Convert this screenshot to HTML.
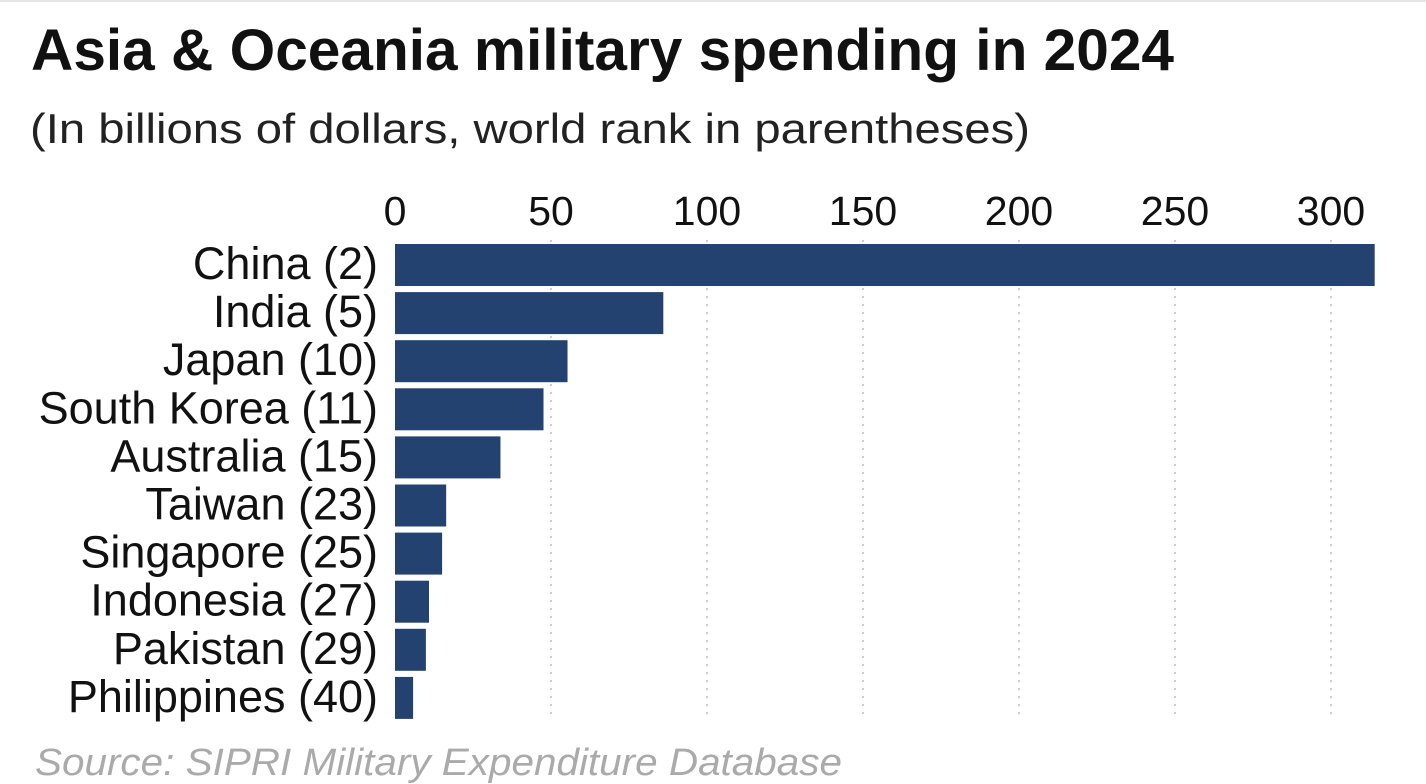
<!DOCTYPE html>
<html><head><meta charset="utf-8"><style>
body{margin:0;background:#fff;}
svg{display:block;font-family:"Liberation Sans",Arial,sans-serif;}
</style></head><body>
<svg id="chart" width="1426" height="784">
<line x1="0" y1="1" x2="1426" y2="1" stroke="#e6e6e6" stroke-width="2"/>
<text x="31" y="70" font-size="58" font-weight="bold" fill="#111" textLength="1143" lengthAdjust="spacingAndGlyphs">Asia &amp; Oceania military spending in 2024</text>
<text x="30" y="143" font-size="42" fill="#222" textLength="1000" lengthAdjust="spacingAndGlyphs">(In billions of dollars, world rank in parentheses)</text>
<g id="grid"></g><g id="bars"></g><g id="xticks"></g><g id="ylabels"></g>
<text x="35" y="775" font-size="38" font-style="italic" fill="#aaa" textLength="807" lengthAdjust="spacingAndGlyphs">Source: SIPRI Military Expenditure Database</text>
</svg>
<script>
const categories=["China (2)","India (5)","Japan (10)","South Korea (11)","Australia (15)","Taiwan (23)","Singapore (25)","Indonesia (27)","Pakistan (29)","Philippines (40)"];
const values=[314,86,55.3,47.6,33.8,16.4,15.1,10.9,9.9,5.8];
const ticks=[0,50,100,150,200,250,300];
const tickLabels=["0","50","100","150","200","250","300"];
const NS="http://www.w3.org/2000/svg";
const x0=395,pxPer=936/300,yTop=244,step=48.1,bh=42;
const xs=v=>x0+v*pxPer, ys=i=>yTop+i*step;
function mk(t,a,p){const e=document.createElementNS(NS,t);for(const k in a)e.setAttribute(k,a[k]);document.getElementById(p).appendChild(e);return e;}
ticks.forEach((t,i)=>{
 if(t>0){const g=mk('line',{x1:xs(t),x2:xs(t),y1:240,y2:720,stroke:'#bbb','stroke-width':1.5,'stroke-dasharray':'2,6'},'grid');
 
 }
 const l=mk('text',{x:xs(t),y:225,'font-size':41,'text-anchor':'middle',fill:'#111'},'xticks');
 l.textContent=tickLabels[i];
 
 
});
categories.forEach((c,i)=>{
 const r=mk('rect',{x:x0,y:ys(i),width:xs(values[i])-x0,height:bh,fill:'#23426f'},'bars');
 
 
 const t=mk('text',{x:378,y:ys(i)+bh/2+14,'font-size':45,'text-anchor':'end',fill:'#111'},'ylabels');
 t.textContent=c;
 
 
});
</script>
</body></html>
